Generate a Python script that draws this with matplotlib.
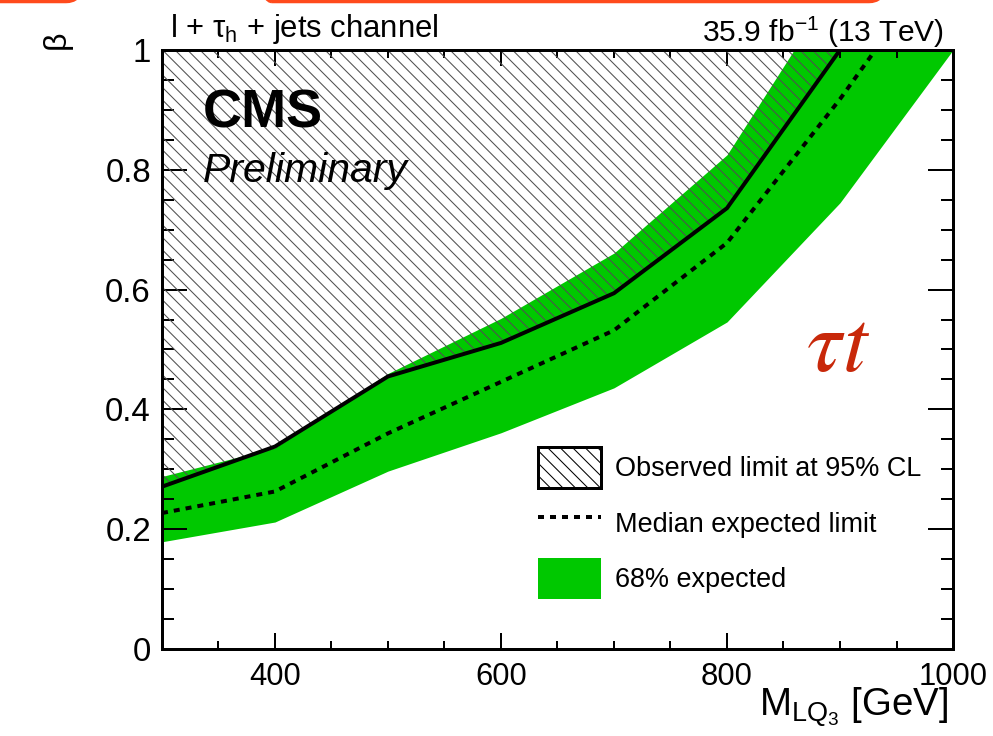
import numpy as np
import matplotlib
matplotlib.use("Agg")
import matplotlib.pyplot as plt
from matplotlib.patches import Patch, FancyBboxPatch
from matplotlib.lines import Line2D
from matplotlib.ticker import MultipleLocator
from matplotlib.transforms import IdentityTransform

# Exclusion limits on the branching fraction beta vs leptoquark mass
mass = [300, 400, 500, 600, 700, 800, 900, 1000]
observed = [0.271, 0.338, 0.455, 0.511, 0.594, 0.736, 1.0, 1.35]
expected = [0.227, 0.263, 0.360, 0.446, 0.532, 0.678, 0.918, 1.18]
expected_lo = [0.179, 0.212, 0.297, 0.361, 0.436, 0.546, 0.745, 1.0]
expected_hi = [0.288, 0.336, 0.460, 0.552, 0.661, 0.825, 1.12, 1.35]

x_major = [400, 600, 800, 1000]
y_major = [0, 0.2, 0.4, 0.6, 0.8, 1.0]
y_labels = ["0", "0.2", "0.4", "0.6", "0.8", "1"]
legend_labels = ["Observed limit at 95% CL", "Median expected limit", "68% expected"]

W, H, DPI = 993, 736, 75


def pt(px):
    return px * 72.0 / DPI


def fig_xy(x, y):
    return x / W, 1 - y / H


plt.rcParams["font.family"] = ["Liberation Sans", "DejaVu Sans"]
plt.rcParams["mathtext.fontset"] = "custom"
plt.rcParams["mathtext.rm"] = "Liberation Sans"
plt.rcParams["mathtext.it"] = "Liberation Sans:italic"
plt.rcParams["mathtext.bf"] = "Liberation Sans:bold"
plt.rcParams["hatch.linewidth"] = 1.0

GREEN = "#00c800"
HATCH = "#505050"
HATCH_STYLE = "\\\\"

fig = plt.figure(figsize=(W / DPI, H / DPI), dpi=DPI)
ax = fig.add_axes([162 / W, (H - 649) / H, (953 - 162) / W, (649 - 50) / H])

ax.fill_between(mass, expected_lo, expected_hi, color=GREEN, lw=0, zorder=1)
ax.fill_between(mass, observed, 1, facecolor="none", edgecolor=HATCH,
                hatch=HATCH_STYLE, lw=0, zorder=2)
dots = (0, (1.5, 1.5))
ax.plot(mass, expected, color="black", lw=pt(4), ls=dots, zorder=3)
ax.plot(mass, observed, color="black", lw=pt(4), zorder=4,
        solid_joinstyle="miter")

ax.set_xlim(300, 1000)
ax.set_ylim(0, 1)
ax.set_xticks(x_major)
ax.set_yticks(y_major, labels=y_labels)
ax.xaxis.set_minor_locator(MultipleLocator(50))
ax.yaxis.set_minor_locator(MultipleLocator(0.05))
ax.tick_params(which="both", direction="in", top=True, right=True,
               width=pt(2))
ax.tick_params(axis="x", which="major", length=pt(16), pad=pt(13),
               labelsize=pt(31))
ax.tick_params(axis="x", which="minor", length=pt(8))
ax.tick_params(axis="y", which="major", length=pt(25), pad=pt(11),
               labelsize=pt(33))
ax.tick_params(axis="y", which="minor", length=pt(12))
for s in ax.spines.values():
    s.set_linewidth(pt(3))
    s.set_zorder(6)

ax.set_xlabel(r"M$_{\mathrm{LQ}_{3}}$ [GeV]", fontsize=pt(38.5))
ax.xaxis.label.set_ha("right")
ax.xaxis.label.set_va("baseline")
ax.xaxis.set_label_coords((948 - 162) / 791, -(716 - 649) / 599)

ax.set_ylabel("β", fontsize=pt(32), rotation=90)
ax.yaxis.label.set_ha("center")
ax.yaxis.label.set_va("top")
ax.yaxis.set_label_coords((42 - 162) / 791, 1 + (50 - 40) / 599)

fig.text(*fig_xy(170, 37), "l + τ$_{\\mathrm{h}}$ + jets channel",
         fontsize=pt(31), ha="left", va="baseline")
fig.text(*fig_xy(944, 42), "35.9 fb$^{-1}$ (13 TeV)",
         fontsize=pt(30), ha="right", va="baseline")
fig.text(*fig_xy(203, 127), "CMS", fontsize=pt(54), weight="bold",
         ha="left", va="baseline")
fig.text(*fig_xy(203, 182), "Preliminary", fontsize=pt(41), style="italic",
         ha="left", va="baseline")
fig.text(*fig_xy(806, 371), r"$\tau t$", fontsize=pt(88), color="#c8280a",
         math_fontfamily="stix", ha="left", va="baseline")

handles = [
    Patch(facecolor="none", edgecolor="black", hatch=HATCH_STYLE, lw=pt(3)),
    Line2D([], [], color="black", lw=pt(4), ls=dots),
    Patch(facecolor=GREEN, edgecolor="none"),
]
fs = 27
hh = (41 / fs - 0.245) / 0.65
ax.legend(handles, legend_labels, loc="upper left",
          bbox_to_anchor=fig_xy(538, 447), bbox_transform=fig.transFigure,
          frameon=False, fontsize=pt(fs), handlelength=63 / fs,
          handleheight=hh, handletextpad=14 / fs,
          labelspacing=14.5 / fs, borderpad=0, borderaxespad=0)

# rounded outline frames peeking in at the top edge
for x0, x1 in [(-40, 80), (258, 883)]:
    box = FancyBboxPatch((x0, H - 1.5), x1 - x0, 80,
                         boxstyle="round,pad=0,rounding_size=14",
                         transform=IdentityTransform(), fill=False,
                         edgecolor="#ff4a1c", lw=pt(3.5))
    fig.add_artist(box)

fig.savefig("out.png", dpi=DPI)
